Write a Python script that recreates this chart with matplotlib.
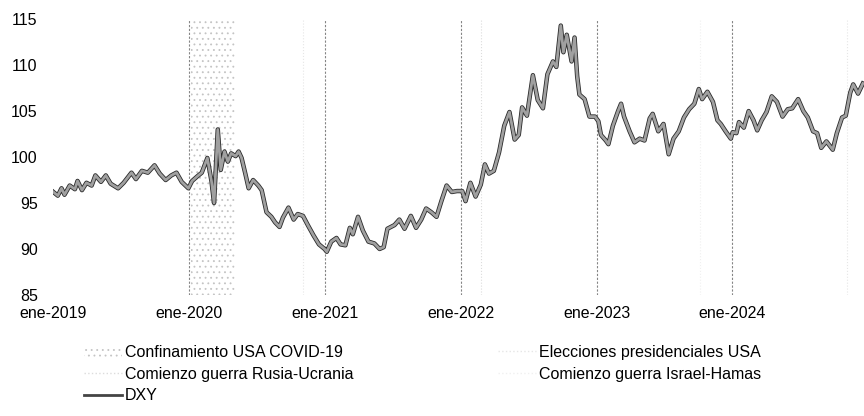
import matplotlib

matplotlib.use("Agg")
import matplotlib.pyplot as plt
import matplotlib.patheffects as pe
import matplotlib.patches as mpatches
from matplotlib.lines import Line2D
import pandas as pd

plt.rcParams["font.family"] = ["Liberation Sans", "DejaVu Sans"]
plt.rcParams["hatch.linewidth"] = 0.6

# DXY (fecha, valor)
dxy = [
    ("2019-01-02", 96.2), ("2019-01-14", 95.8), ("2019-01-24", 96.6), ("2019-02-01", 95.9),
    ("2019-02-15", 96.9), ("2019-03-01", 96.5), ("2019-03-08", 97.4), ("2019-03-20", 96.4),
    ("2019-04-01", 97.2), ("2019-04-15", 96.9), ("2019-04-25", 98.0), ("2019-05-10", 97.3),
    ("2019-05-23", 98.0), ("2019-06-05", 97.1), ("2019-06-25", 96.6), ("2019-07-10", 97.2),
    ("2019-07-31", 98.3), ("2019-08-12", 97.6), ("2019-08-28", 98.5), ("2019-09-13", 98.3),
    ("2019-10-01", 99.1), ("2019-10-15", 98.2), ("2019-10-31", 97.5), ("2019-11-15", 98.0),
    ("2019-11-29", 98.3), ("2019-12-13", 97.3), ("2019-12-31", 96.6),
    ("2020-01-10", 97.4), ("2020-01-24", 97.9), ("2020-02-05", 98.3), ("2020-02-20", 99.9),
    ("2020-03-02", 97.4), ("2020-03-09", 95.0), ("2020-03-19", 103.0), ("2020-03-27", 98.6),
    ("2020-04-06", 100.6), ("2020-04-15", 99.5), ("2020-04-24", 100.4), ("2020-05-06", 100.1),
    ("2020-05-14", 100.6), ("2020-05-22", 99.9), ("2020-06-01", 98.2), ("2020-06-10", 96.6),
    ("2020-06-22", 97.5), ("2020-07-06", 96.9), ("2020-07-15", 96.4), ("2020-07-28", 94.0),
    ("2020-08-10", 93.5), ("2020-08-20", 92.9), ("2020-09-01", 92.4), ("2020-09-10", 93.4),
    ("2020-09-25", 94.5), ("2020-10-09", 93.2), ("2020-10-20", 93.8), ("2020-11-03", 93.6),
    ("2020-11-16", 92.6), ("2020-12-01", 91.5), ("2020-12-16", 90.5), ("2020-12-31", 90.0),
    ("2021-01-06", 89.7), ("2021-01-18", 90.8), ("2021-02-01", 91.2), ("2021-02-12", 90.5),
    ("2021-02-25", 90.4), ("2021-03-09", 92.3), ("2021-03-17", 91.6), ("2021-03-31", 93.5),
    ("2021-04-13", 92.0), ("2021-04-28", 90.8), ("2021-05-14", 90.6), ("2021-05-28", 90.0),
    ("2021-06-08", 90.2), ("2021-06-18", 92.2), ("2021-07-07", 92.6), ("2021-07-20", 93.2),
    ("2021-08-03", 92.2), ("2021-08-20", 93.6), ("2021-09-03", 92.3), ("2021-09-17", 93.2),
    ("2021-09-30", 94.4), ("2021-10-14", 94.0), ("2021-10-28", 93.5), ("2021-11-10", 95.2),
    ("2021-11-24", 96.9), ("2021-12-08", 96.2), ("2021-12-22", 96.3),
    ("2022-01-05", 96.3), ("2022-01-14", 95.2), ("2022-01-27", 97.2), ("2022-02-10", 95.7),
    ("2022-02-24", 97.0), ("2022-03-07", 99.2), ("2022-03-18", 98.2), ("2022-03-31", 98.5),
    ("2022-04-14", 100.5), ("2022-04-28", 103.4), ("2022-05-12", 104.9), ("2022-05-26", 101.9),
    ("2022-06-06", 102.4), ("2022-06-15", 105.4), ("2022-06-28", 104.5), ("2022-07-14", 108.9),
    ("2022-07-27", 106.2), ("2022-08-10", 105.3), ("2022-08-22", 109.0), ("2022-09-06", 110.4),
    ("2022-09-15", 109.8), ("2022-09-27", 114.3), ("2022-10-04", 111.4), ("2022-10-13", 113.3),
    ("2022-10-26", 110.4), ("2022-11-03", 113.0), ("2022-11-10", 108.8), ("2022-11-16", 106.8),
    ("2022-11-30", 106.3), ("2022-12-13", 104.4), ("2022-12-28", 104.4),
    ("2023-01-06", 103.9), ("2023-01-13", 102.4), ("2023-01-26", 101.8), ("2023-02-02", 101.4),
    ("2023-02-14", 103.4), ("2023-02-28", 105.0), ("2023-03-08", 105.8), ("2023-03-16", 104.4),
    ("2023-03-31", 102.8), ("2023-04-13", 101.6), ("2023-04-27", 102.0), ("2023-05-10", 101.8),
    ("2023-05-24", 104.2), ("2023-06-01", 104.7), ("2023-06-16", 102.8), ("2023-06-30", 103.6),
    ("2023-07-14", 100.3), ("2023-07-27", 102.0), ("2023-08-10", 102.8), ("2023-08-24", 104.3),
    ("2023-09-07", 105.2), ("2023-09-21", 105.8), ("2023-10-03", 107.4), ("2023-10-12", 106.3),
    ("2023-10-26", 107.1), ("2023-11-10", 106.0), ("2023-11-22", 104.0), ("2023-12-01", 103.6),
    ("2023-12-14", 102.8), ("2023-12-28", 102.0),
    ("2024-01-02", 102.7), ("2024-01-12", 102.6), ("2024-01-19", 103.8), ("2024-02-01", 103.2),
    ("2024-02-14", 105.0), ("2024-02-27", 104.0), ("2024-03-08", 102.9), ("2024-03-20", 104.0),
    ("2024-04-02", 104.9), ("2024-04-16", 106.6), ("2024-04-30", 106.0), ("2024-05-15", 104.4),
    ("2024-05-29", 105.2), ("2024-06-10", 105.3), ("2024-06-26", 106.3), ("2024-07-10", 105.0),
    ("2024-07-22", 104.3), ("2024-08-05", 102.8), ("2024-08-16", 102.6), ("2024-08-27", 101.0),
    ("2024-09-10", 101.7), ("2024-09-27", 100.8), ("2024-10-08", 102.6), ("2024-10-22", 104.3),
    ("2024-11-01", 104.5), ("2024-11-13", 107.0), ("2024-11-21", 107.9), ("2024-12-04", 106.9),
    ("2024-12-17", 108.0),
]
dxy_dates = pd.to_datetime([d for d, _ in dxy])
dxy_values = [v for _, v in dxy]

covid = ("2020-01-07", "2020-05-04")
ukraine_war = "2022-02-24"
us_elections = ["2020-11-03", "2024-11-05"]
israel_war = "2023-10-07"

year_ticks = pd.date_range("2019-01-01", "2024-01-01", freq="YS")
year_labels = [f"ene-{d.year}" for d in year_ticks]
y_ticks = [85, 90, 95, 100, 105, 110, 115]

fig = plt.figure(figsize=(8.64, 4.16), dpi=100)
ax = fig.add_axes([0.0613, 0.291, 0.9387, 0.663])

ax.axvspan(pd.Timestamp(covid[0]), pd.Timestamp(covid[1]), facecolor="white",
           edgecolor="#c4c4c4", hatch="...", linewidth=0, zorder=1)
for d in year_ticks[1:]:
    ax.axvline(d, color="#858585", linestyle=(0, (2, 1.5)), linewidth=0.8, zorder=1)
ax.axvline(pd.Timestamp(ukraine_war), color="#dcdcdc", linestyle=":", linewidth=0.8, zorder=1)
for d in us_elections:
    ax.axvline(pd.Timestamp(d), color="#e6e6e6", linestyle=":", linewidth=0.8, zorder=1)
ax.axvline(pd.Timestamp(israel_war), color="#f0f0f0", linestyle=":", linewidth=0.8, zorder=1)

ax.plot(dxy_dates, dxy_values, color="#a0a0a0", linewidth=2.0, zorder=3,
        path_effects=[pe.withStroke(linewidth=3.2, foreground="#2a2a2a")])

ax.set_xlim(pd.Timestamp("2019-01-01"), pd.Timestamp("2024-12-20"))
ax.set_ylim(85, 115)
ax.set_xticks(year_ticks)
ax.set_xticklabels(year_labels)
ax.set_yticks(y_ticks)
ax.tick_params(length=0, labelsize=11.5)
ax.tick_params(axis="y", pad=11)
ax.tick_params(axis="x", pad=8)
for s in ax.spines.values():
    s.set_visible(False)

h_covid = mpatches.Patch(facecolor="white", edgecolor="#c4c4c4", hatch="...", linewidth=0)
h_ukr = Line2D([], [], color="#dcdcdc", linestyle=":", linewidth=1)
h_dxy = Line2D([], [], color="#444444", linewidth=2)
h_elec = Line2D([], [], color="#e6e6e6", linestyle=":", linewidth=1)
h_isr = Line2D([], [], color="#f0f0f0", linestyle=":", linewidth=1)

leg_kw = dict(loc="upper left", frameon=False, fontsize=11.5, borderpad=0,
              handlelength=2.4, handletextpad=0.15, labelspacing=0.42)
fig.legend([h_covid, h_ukr, h_dxy],
           ["Confinamiento USA COVID-19", "Comienzo guerra Rusia-Ucrania", "DXY"],
           bbox_to_anchor=(0.088, 0.19), **leg_kw)
fig.legend([h_elec, h_isr],
           ["Elecciones presidenciales USA", "Comienzo guerra Israel-Hamas"],
           bbox_to_anchor=(0.567, 0.19), **leg_kw)

fig.savefig("out.png", dpi=100)
